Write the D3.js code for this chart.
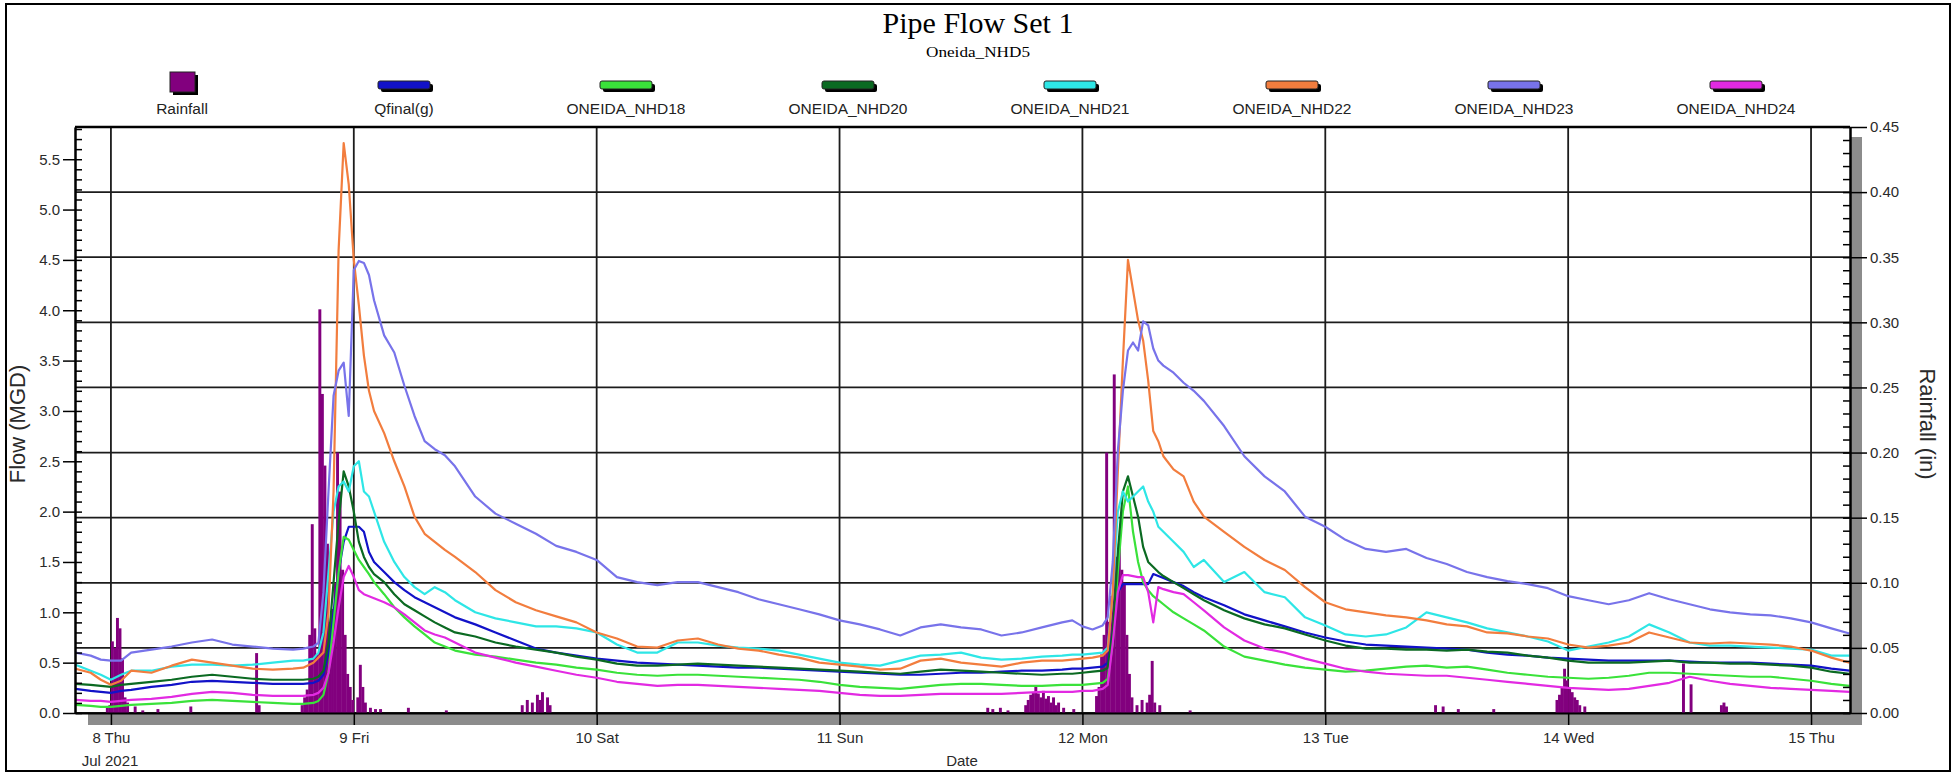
<!DOCTYPE html>
<html lang="en">
<head>
<meta charset="UTF-8">
<title>Pipe Flow Set 1</title>
<script src="https://d3js.org/d3.v7.min.js"></script>
<style>
  body { margin: 0; background: #fff; }
  svg { display: block; font-family: Arial, "Liberation Sans", sans-serif; }
  .tick text { fill: #2a2a2a; font-size: 15px; }
</style>
</head>
<body>
<svg id="chart" width="1958" height="776"></svg>
<script>
// time axis: hours after 8 Jul 2021 00:00
const hours = [-3.5, -2, -1, 0, 1, 2, 4, 6, 8, 10, 12, 14, 16, 18, 19,
  20, 20.5, 21, 21.5, 22, 22.5, 23, 23.5, 24, 24.5, 25, 25.5, 26,
  27, 28, 29, 30, 31, 32, 33, 34,
  36, 38, 40, 42, 44, 46, 48, 50, 52, 54, 56, 58, 60, 62, 64, 66, 68, 70, 72, 74, 76, 78, 80, 82, 84, 86, 88, 90, 92, 94,
  95, 96, 97, 98,
  98.5, 99, 99.5, 100, 100.5, 101, 101.5, 102, 102.5, 103, 103.5, 104,
  105, 106, 107, 108,
  110, 112, 114, 116, 118, 120, 122, 124, 126, 128, 130, 132, 134, 136, 138, 140, 142, 144, 146, 148, 150, 152, 154, 156, 158, 160, 162, 164, 166, 168, 170,
  171.8];

// flow, MGD
const qfinal = [0.24, 0.22, 0.21, 0.20, 0.22, 0.23, 0.26, 0.28, 0.31, 0.32, 0.31, 0.30, 0.29, 0.29, 0.29,
  0.30, 0.32, 0.38, 0.60, 1.00, 1.40, 1.70, 1.85, 1.85, 1.85, 1.80, 1.60, 1.50,
  1.40, 1.30, 1.22, 1.15, 1.10, 1.05, 1.00, 0.95,
  0.88, 0.80, 0.72, 0.64, 0.60, 0.57, 0.54, 0.52, 0.50, 0.49, 0.48, 0.47, 0.46, 0.45, 0.45, 0.44, 0.43, 0.42, 0.41, 0.40, 0.39, 0.38, 0.38, 0.39, 0.40, 0.40, 0.41, 0.42, 0.42, 0.43,
  0.44, 0.44, 0.45, 0.46,
  0.50, 0.80, 1.20, 1.28, 1.28, 1.28, 1.28, 1.28, 1.28, 1.38, 1.36, 1.34,
  1.30, 1.26, 1.20, 1.15,
  1.07, 0.98, 0.92, 0.86, 0.80, 0.75, 0.71, 0.68, 0.67, 0.66, 0.65, 0.64, 0.63, 0.60, 0.58, 0.57, 0.55, 0.54, 0.53, 0.52, 0.52, 0.52, 0.52, 0.51, 0.50, 0.50, 0.50, 0.49, 0.48, 0.47, 0.44,
  0.42];

const nhd18 = [0.08, 0.07, 0.06, 0.06, 0.07, 0.08, 0.09, 0.10, 0.12, 0.13, 0.12, 0.11, 0.10, 0.09, 0.09,
  0.10, 0.12, 0.18, 0.40, 0.90, 1.40, 1.75, 1.72, 1.62, 1.52, 1.45, 1.38, 1.30,
  1.18, 1.05, 0.95, 0.86, 0.78, 0.70, 0.66, 0.62,
  0.58, 0.56, 0.53, 0.50, 0.48, 0.45, 0.43, 0.40, 0.38, 0.37, 0.38, 0.38, 0.37, 0.36, 0.35, 0.34, 0.33, 0.31, 0.28, 0.26, 0.25, 0.24, 0.26, 0.28, 0.29, 0.29, 0.28, 0.27, 0.27, 0.28,
  0.28, 0.28, 0.29, 0.30,
  0.34, 0.70, 1.40, 2.00, 2.25, 1.80, 1.50, 1.30, 1.22, 1.16, 1.12, 1.08,
  1.00, 0.94, 0.88, 0.82,
  0.66, 0.56, 0.52, 0.48, 0.45, 0.43, 0.41, 0.42, 0.44, 0.46, 0.47, 0.45, 0.46, 0.43, 0.40, 0.38, 0.36, 0.35, 0.34, 0.35, 0.37, 0.40, 0.40, 0.39, 0.38, 0.37, 0.36, 0.36, 0.34, 0.32, 0.29,
  0.27];

const nhd20 = [0.29, 0.28, 0.27, 0.26, 0.28, 0.29, 0.31, 0.33, 0.36, 0.38, 0.36, 0.34, 0.33, 0.33, 0.33,
  0.34, 0.36, 0.42, 0.70, 1.30, 1.90, 2.40, 2.25, 2.00, 1.70, 1.55, 1.45, 1.38,
  1.30, 1.18, 1.08, 1.02, 0.96, 0.90, 0.85, 0.80,
  0.76, 0.70, 0.66, 0.63, 0.60, 0.56, 0.53, 0.49, 0.47, 0.47, 0.48, 0.49, 0.48, 0.47, 0.46, 0.45, 0.44, 0.43, 0.42, 0.41, 0.40, 0.39, 0.41, 0.43, 0.42, 0.41, 0.40, 0.39, 0.38, 0.39,
  0.39, 0.40, 0.41, 0.42,
  0.45, 0.80, 1.60, 2.20, 2.35, 2.15, 1.95, 1.65, 1.50, 1.45, 1.40, 1.36,
  1.30, 1.24, 1.18, 1.12,
  1.02, 0.94, 0.88, 0.84, 0.78, 0.72, 0.67, 0.64, 0.64, 0.63, 0.63, 0.62, 0.63, 0.61, 0.60, 0.57, 0.55, 0.52, 0.50, 0.50, 0.50, 0.51, 0.52, 0.50, 0.50, 0.49, 0.49, 0.48, 0.47, 0.45, 0.41,
  0.39];

const nhd21 = [0.48, 0.42, 0.38, 0.33, 0.38, 0.42, 0.42, 0.46, 0.48, 0.48, 0.47, 0.48, 0.50, 0.52, 0.52,
  0.54, 0.60, 0.80, 1.40, 2.00, 2.25, 2.30, 2.20, 2.45, 2.50, 2.20, 2.15, 2.00,
  1.70, 1.50, 1.35, 1.25, 1.18, 1.25, 1.20, 1.12,
  1.00, 0.94, 0.90, 0.86, 0.86, 0.84, 0.80, 0.68, 0.60, 0.60, 0.70, 0.70, 0.67, 0.65, 0.64, 0.62, 0.58, 0.54, 0.50, 0.48, 0.47, 0.52, 0.57, 0.58, 0.60, 0.55, 0.53, 0.54, 0.56, 0.57,
  0.58, 0.58, 0.59, 0.60,
  0.65, 1.20, 2.00, 2.20, 2.10, 2.15, 2.20, 2.25, 2.10, 2.00, 1.85, 1.80,
  1.70, 1.60, 1.45, 1.52,
  1.30, 1.40, 1.20, 1.15, 0.95, 0.87, 0.78, 0.76, 0.78, 0.85, 1.00, 0.95, 0.90, 0.84, 0.80, 0.76, 0.71, 0.62, 0.66, 0.70, 0.76, 0.88, 0.80, 0.70, 0.67, 0.67, 0.66, 0.65, 0.64, 0.63, 0.57,
  0.57];

const nhd22 = [0.44, 0.40, 0.33, 0.28, 0.32, 0.42, 0.40, 0.47, 0.53, 0.50, 0.47, 0.44, 0.43, 0.44, 0.45,
  0.50, 0.55, 0.60, 1.00, 2.20, 4.60, 5.66, 5.25, 4.50, 4.05, 3.55, 3.20, 3.00,
  2.78, 2.50, 2.25, 1.95, 1.78, 1.70, 1.62, 1.55,
  1.40, 1.22, 1.10, 1.02, 0.96, 0.90, 0.80, 0.74, 0.66, 0.65, 0.72, 0.74, 0.68, 0.64, 0.62, 0.58, 0.55, 0.50, 0.48, 0.46, 0.43, 0.44, 0.52, 0.54, 0.50, 0.48, 0.46, 0.50, 0.52, 0.52,
  0.53, 0.54, 0.55, 0.57,
  0.62, 1.20, 2.40, 3.50, 4.50, 4.20, 3.90, 3.70, 3.30, 2.80, 2.70, 2.55,
  2.42, 2.35, 2.10, 1.95,
  1.80, 1.65, 1.52, 1.42, 1.25, 1.10, 1.03, 1.00, 0.97, 0.95, 0.92, 0.88, 0.86, 0.80, 0.79, 0.76, 0.74, 0.68, 0.65, 0.67, 0.70, 0.80, 0.75, 0.70, 0.69, 0.70, 0.69, 0.68, 0.66, 0.62, 0.55,
  0.50];

const nhd23 = [0.60, 0.57, 0.53, 0.52, 0.52, 0.60, 0.63, 0.66, 0.70, 0.73, 0.68, 0.66, 0.64, 0.63, 0.64,
  0.66, 0.70, 1.20, 2.20, 3.15, 3.40, 3.48, 2.95, 4.40, 4.49, 4.47, 4.35, 4.10,
  3.75, 3.58, 3.25, 2.95, 2.70, 2.62, 2.56, 2.45,
  2.15, 1.98, 1.88, 1.78, 1.66, 1.60, 1.52, 1.35, 1.30, 1.27, 1.30, 1.30, 1.25, 1.20, 1.13, 1.08, 1.03, 0.98, 0.92, 0.88, 0.83, 0.77, 0.85, 0.88, 0.85, 0.83, 0.77, 0.80, 0.85, 0.90,
  0.92, 0.86, 0.83, 0.87,
  0.95, 1.50, 2.60, 3.20, 3.60, 3.68, 3.60, 3.89, 3.85, 3.62, 3.50, 3.45,
  3.38, 3.28, 3.20, 3.10,
  2.85, 2.55, 2.35, 2.20, 1.95, 1.85, 1.72, 1.63, 1.60, 1.63, 1.54, 1.48, 1.40, 1.35, 1.31, 1.28, 1.24, 1.16, 1.12, 1.08, 1.12, 1.19, 1.13, 1.08, 1.03, 1.00, 0.98, 0.97, 0.94, 0.90, 0.84,
  0.79];

const nhd24 = [0.13, 0.12, 0.12, 0.11, 0.12, 0.13, 0.14, 0.16, 0.19, 0.21, 0.20, 0.18, 0.17, 0.17, 0.17,
  0.18, 0.20, 0.25, 0.40, 0.70, 1.05, 1.35, 1.46, 1.35, 1.22, 1.18, 1.16, 1.14,
  1.10, 1.05, 0.98, 0.90, 0.82, 0.78, 0.75, 0.70,
  0.60, 0.55, 0.50, 0.46, 0.42, 0.38, 0.35, 0.31, 0.29, 0.27, 0.28, 0.28, 0.27, 0.26, 0.25, 0.24, 0.23, 0.22, 0.20, 0.18, 0.17, 0.17, 0.18, 0.19, 0.19, 0.19, 0.19, 0.20, 0.21, 0.21,
  0.21, 0.22, 0.22, 0.24,
  0.28, 0.70, 1.20, 1.37, 1.37, 1.36, 1.35, 1.35, 1.20, 0.90, 1.25, 1.23,
  1.20, 1.18, 1.10, 1.02,
  0.85, 0.72, 0.64, 0.60, 0.54, 0.49, 0.44, 0.41, 0.39, 0.38, 0.37, 0.37, 0.35, 0.33, 0.31, 0.29, 0.27, 0.25, 0.24, 0.23, 0.24, 0.27, 0.30, 0.36, 0.32, 0.29, 0.27, 0.25, 0.24, 0.23, 0.22,
  0.21];

// rainfall, inches per 15 min
const rainHours = [-0.5, -0.25, 0, 0.25, 0.5, 0.75, 1, 1.25, 1.5, 2.25, 3, 4.5, 7.75, 14.25, 14.5,
  18.75, 19, 19.25, 19.5, 19.75, 20, 20.25, 20.5, 20.75, 21, 21.25, 21.5, 21.75, 22, 22.25, 22.5, 22.75, 23, 23.25, 23.5, 23.75, 24.25, 24.5, 24.75, 25, 25.5, 26, 26.5, 29.25, 33,
  40.5, 41, 41.5, 42, 42.25, 42.5, 43, 43.25,
  86.5, 87, 87.75, 88.5, 90.25, 90.5, 90.75, 91, 91.25, 91.5, 91.75, 92, 92.25, 92.5, 92.75, 93, 93.25, 93.5, 94, 95,
  97.25, 97.5, 97.75, 98, 98.25, 98.5, 98.75, 99, 99.25, 99.5, 99.75, 100, 100.25, 100.5, 100.75, 101.25, 101.75, 102.25, 102.5, 102.75, 103, 103.5, 106.5,
  130.75, 131.5, 133, 136.5, 142.75, 143, 143.25, 143.5, 143.75, 144, 144.25, 144.5, 144.75, 145, 145.5, 155.25, 156, 159, 159.25, 159.5];
const rainInches = [0.004, 0.006, 0.055, 0.05, 0.073, 0.065, 0.042, 0.012, 0.008, 0.005, 0.002, 0.003, 0.005, 0.046, 0.006,
  0.006, 0.012, 0.018, 0.06, 0.145, 0.065, 0.045, 0.31, 0.245, 0.19, 0.13, 0.07, 0.08, 0.1, 0.2, 0.17, 0.11, 0.06, 0.03, 0.02, 0.01, 0.012, 0.037, 0.02, 0.008, 0.004, 0.003, 0.003, 0.004, 0.002,
  0.006, 0.01, 0.008, 0.014, 0.01, 0.016, 0.012, 0.006,
  0.004, 0.003, 0.004, 0.002, 0.006, 0.01, 0.014, 0.016, 0.02, 0.015, 0.012, 0.017, 0.011, 0.013, 0.008, 0.012, 0.006, 0.008, 0.004, 0.003,
  0.013, 0.02, 0.045, 0.06, 0.2, 0.07, 0.09, 0.26, 0.12, 0.13, 0.11, 0.1, 0.06, 0.03, 0.012, 0.006, 0.01, 0.008, 0.014, 0.04, 0.008, 0.006, 0.002,
  0.006, 0.005, 0.003, 0.003, 0.01, 0.014, 0.02, 0.034, 0.025, 0.02, 0.016, 0.012, 0.01, 0.006, 0.005, 0.038, 0.022, 0.006, 0.008, 0.005];

const seriesNames = ["Qfinal(g)", "ONEIDA_NHD18", "ONEIDA_NHD20", "ONEIDA_NHD21", "ONEIDA_NHD22", "ONEIDA_NHD23", "ONEIDA_NHD24"];
const flowTicks = [0, 0.5, 1, 1.5, 2, 2.5, 3, 3.5, 4, 4.5, 5, 5.5];
const rainTicks = [0, 0.05, 0.1, 0.15, 0.2, 0.25, 0.3, 0.35, 0.4, 0.45];

const lineColors = ["#1212c8", "#3ae23a", "#0b6a22", "#2ee6e6", "#f27d3e", "#7873ea", "#e22ae2"];
const rainColor = "#82007e";

const svg = d3.select("#chart");
const P = {left: 75, right: 1850, top: 127, bottom: 713};
const base = new Date(2021, 6, 8);
const at = h => new Date(+base + h * 3600000);

const x = d3.scaleTime().domain([at(-3.55), at(171.85)]).range([P.left, P.right]);
const yFlow = d3.scaleLinear().domain([0, 5.82]).range([P.bottom, P.top]);
const yRain = d3.scaleLinear().domain([0, 0.45]).range([P.bottom, P.top]);

// outer frame
svg.append("rect").attr("x", 6).attr("y", 4).attr("width", 1944).attr("height", 767)
  .attr("fill", "none").attr("stroke", "#000").attr("stroke-width", 2);

// titles
svg.append("text").attr("x", 978).attr("y", 33).attr("text-anchor", "middle")
  .style("font-family", "'Liberation Serif', 'Times New Roman', serif").style("font-size", "30px")
  .text("Pipe Flow Set 1");
svg.append("text").attr("x", 978).attr("y", 57).attr("text-anchor", "middle")
  .style("font-family", "'Liberation Serif', 'Times New Roman', serif").style("font-size", "14px")
  .attr("textLength", 104).attr("lengthAdjust", "spacingAndGlyphs")
  .text("Oneida_NHD5");

// legend
const legendNames = ["Rainfall"].concat(seriesNames);
const legendColors = [rainColor].concat(lineColors);
const legX = d3.scaleLinear().domain([0, legendNames.length - 1]).range([182, 1736]);
const leg = svg.append("g");
legendNames.forEach((name, i) => {
  const cx = legX(i);
  if (i === 0) {
    leg.append("rect").attr("x", cx - 12 + 3).attr("y", 72 + 3).attr("width", 25).attr("height", 20).attr("fill", "#000");
    leg.append("rect").attr("x", cx - 12).attr("y", 72).attr("width", 25).attr("height", 20)
      .attr("fill", legendColors[i]).attr("stroke", "#222").attr("stroke-width", 1);
  } else {
    leg.append("rect").attr("x", cx - 26 + 3).attr("y", 81 + 3).attr("width", 52).attr("height", 8).attr("rx", 2).attr("fill", "#000");
    leg.append("rect").attr("x", cx - 26).attr("y", 81).attr("width", 52).attr("height", 8).attr("rx", 2)
      .attr("fill", legendColors[i]).attr("stroke", "#222").attr("stroke-width", 1);
  }
  leg.append("text").attr("x", cx).attr("y", 114).attr("text-anchor", "middle")
    .style("font-size", "15.5px").style("fill", "#222").text(name);
});

// 3D shadow of the plot frame
svg.append("rect").attr("x", 88).attr("y", P.bottom).attr("width", P.right + 12 - 88).attr("height", 12).attr("fill", "#8c8c8c");
svg.append("rect").attr("x", P.right).attr("y", P.top + 10).attr("width", 12).attr("height", P.bottom + 12 - P.top - 10).attr("fill", "#8c8c8c");
svg.append("rect").attr("x", P.left).attr("y", P.top).attr("width", P.right - P.left).attr("height", P.bottom - P.top).attr("fill", "#fff");

// grid
const days = d3.timeDay.range(at(0), at(169));
svg.append("g").selectAll("line").data(rainTicks).join("line")
  .attr("x1", P.left).attr("x2", P.right)
  .attr("y1", d => yRain(d)).attr("y2", d => yRain(d))
  .attr("stroke", "#1c1c1c").attr("stroke-width", 1.8);
svg.append("g").selectAll("line").data(days).join("line")
  .attr("x1", d => x(d)).attr("x2", d => x(d))
  .attr("y1", P.top).attr("y2", P.bottom)
  .attr("stroke", "#1c1c1c").attr("stroke-width", 1.8);

svg.append("clipPath").attr("id", "clip").append("rect")
  .attr("x", P.left).attr("y", P.top).attr("width", P.right - P.left).attr("height", P.bottom - P.top);

// rainfall bars
const rain = rainHours.map((h, i) => ({h: h, v: rainInches[i]}));
svg.append("g").attr("clip-path", "url(#clip)").selectAll("rect").data(rain).join("rect")
  .attr("x", d => x(at(d.h)))
  .attr("width", d => x(at(d.h + 0.25)) - x(at(d.h)) + 0.4)
  .attr("y", d => yRain(d.v))
  .attr("height", d => P.bottom - yRain(d.v))
  .attr("fill", rainColor);

// flow lines
const flows = [qfinal, nhd18, nhd20, nhd21, nhd22, nhd23, nhd24];
const line = d3.line().x((d, i) => x(at(hours[i]))).y(d => yFlow(d));
svg.append("g").attr("clip-path", "url(#clip)").selectAll("path").data(flows).join("path")
  .attr("d", line)
  .attr("fill", "none")
  .attr("stroke", (d, i) => lineColors[i])
  .attr("stroke-width", 2.2)
  .attr("stroke-linejoin", "round");

// axes
function styleAxis(g) {
  g.attr("font-family", null).attr("font-size", null);
  g.select(".domain").attr("stroke", "#000").attr("stroke-width", 2);
  g.selectAll(".tick line").attr("stroke", "#000").attr("stroke-width", 1.5);
}
const flowMinor = d3.range(0, 5.81, 0.1);
const rainMinor = d3.range(0, 0.451, 0.01);

svg.append("g").attr("transform", `translate(${P.left},0)`)
  .call(d3.axisRight(yFlow).tickValues(flowMinor).tickSize(7).tickSizeOuter(0).tickFormat(""))
  .call(styleAxis);
svg.append("g").attr("transform", `translate(${P.left},0)`)
  .call(d3.axisLeft(yFlow).tickValues(flowTicks).tickFormat(d3.format(".1f")).tickSize(12).tickSizeOuter(0).tickPadding(3))
  .call(styleAxis);

svg.append("g").attr("transform", `translate(${P.right},0)`)
  .call(d3.axisLeft(yRain).tickValues(rainMinor).tickSize(7).tickSizeOuter(0).tickFormat(""))
  .call(styleAxis);
svg.append("g").attr("transform", `translate(${P.right},0)`)
  .call(d3.axisRight(yRain).tickValues(rainTicks).tickFormat(d3.format(".2f")).tickSize(17).tickSizeOuter(0).tickPadding(3))
  .call(styleAxis);

svg.append("g").attr("transform", `translate(0,${P.bottom})`)
  .call(d3.axisBottom(x).tickValues(days).tickFormat(d3.timeFormat("%-d %a")).tickSize(12).tickSizeOuter(0).tickPadding(7))
  .call(styleAxis);

svg.append("line").attr("x1", P.left).attr("x2", P.right).attr("y1", P.top).attr("y2", P.top)
  .attr("stroke", "#000").attr("stroke-width", 2.5);

// axis titles
svg.append("text").attr("transform", "translate(25,424) rotate(-90)").attr("text-anchor", "middle")
  .style("font-size", "22px").style("fill", "#2a2a2a").text("Flow (MGD)");
svg.append("text").attr("transform", "translate(1920,424) rotate(90)").attr("text-anchor", "middle")
  .style("font-size", "22px").style("fill", "#2a2a2a").text("Rainfall (in)");
svg.append("text").attr("x", 110).attr("y", 766).attr("text-anchor", "middle")
  .style("font-size", "15px").style("fill", "#2a2a2a").text("Jul 2021");
svg.append("text").attr("x", 962).attr("y", 766).attr("text-anchor", "middle")
  .style("font-size", "15px").style("fill", "#2a2a2a").text("Date");
</script>
</body>
</html>
